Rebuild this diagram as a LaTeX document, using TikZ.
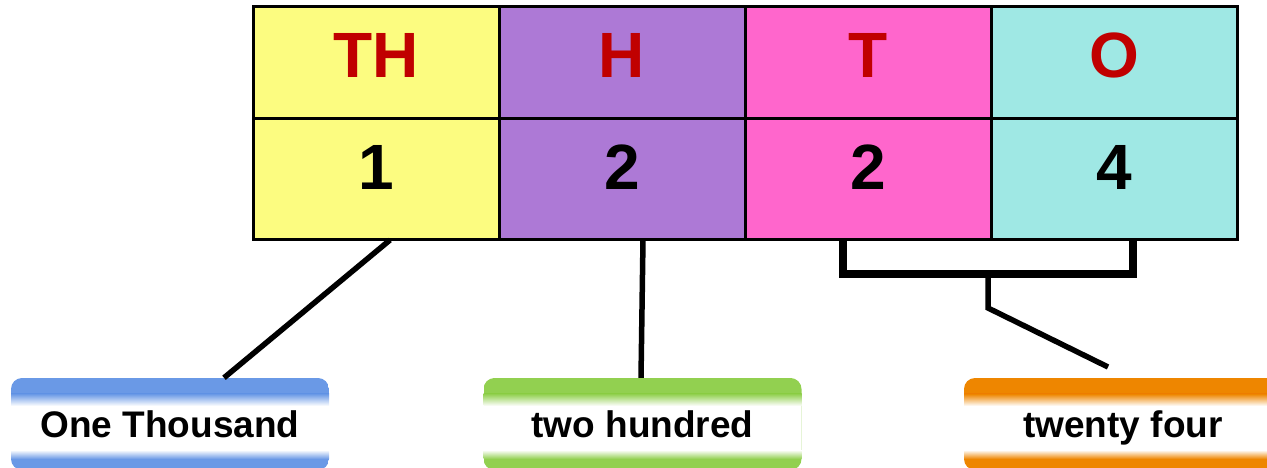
\documentclass[tikz,border=0pt]{standalone}
\usepackage{fontspec}
\setmainfont{Liberation Sans}
\usetikzlibrary{calc}
\definecolor{cyel}{HTML}{FCFC80}
\definecolor{cpur}{HTML}{AD79D6}
\definecolor{cpink}{HTML}{FF66CC}
\definecolor{ccyan}{HTML}{9FE8E4}
\definecolor{cred}{HTML}{C00000}
\definecolor{cblue}{HTML}{6A99E6}
\definecolor{cgreen}{HTML}{92D050}
\definecolor{corange}{HTML}{EE8600}
\tikzset{
  cell/.style={draw=black, line width=3pt, fill=#1, minimum width=246pt, inner sep=0pt, outer sep=0pt},
  headtxt/.style={anchor=base, font=\fontsize{64}{70}\selectfont\bfseries, text=cred, inner sep=0pt},
  digtxt/.style={anchor=base, font=\fontsize{64}{70}\selectfont\bfseries, text=black, inner sep=0pt},
  lbl/.style={rounded corners=11pt, minimum width=318pt, minimum height=92pt, inner sep=0pt,
    text height=27pt, text depth=0pt,
    font=\fontsize{37}{40}\selectfont\bfseries, text=black,
    path picture={
      \coordinate (pnw) at (path picture bounding box.north west);
      \coordinate (pse) at (path picture bounding box.south east);
      \fill[#1, sharp corners] (pnw) rectangle (pse);
      \fill[white, sharp corners] ($(pnw)+(0,-27)$) rectangle ($(pse)+(0,21)$);
      \shade[sharp corners, top color=#1, bottom color=white] ($(pnw)+(0,-16)$) rectangle ($(pse|-pnw)+(0,-28)$);
      \shade[sharp corners, top color=white, bottom color=#1] ($(pnw|-pse)+(0,20)$) rectangle ($(pse)+(0,11)$);
    }},
  conn/.style={line width=5.5pt, black},
  brack/.style={line width=8pt, black, line join=miter},
}
\begin{document}
\begin{tikzpicture}[x=1pt,y=1pt]
\useasboundingbox (0,0) rectangle (1267,468);
\clip (0,0) rectangle (1267,468);
% table cells
\node[cell=cyel, minimum height=112pt] (thc) at (376,405) {};
\node[cell=cpur, minimum height=112pt] (hc) at (622,405) {};
\node[cell=cpink, minimum height=112pt] (tc) at (868,405) {};
\node[cell=ccyan, minimum height=112pt] (oc) at (1114,405) {};
\node[cell=cyel, minimum height=121pt] (d1) at (376,288.5) {};
\node[cell=cpur, minimum height=121pt] (d2) at (622,288.5) {};
\node[cell=cpink, minimum height=121pt] (d3) at (868,288.5) {};
\node[cell=ccyan, minimum height=121pt] (d4) at (1114,288.5) {};
% texts
\node[headtxt] (tth) at (376,390) {TH};
\node[headtxt] (th) at (622,390) {H};
\node[headtxt] (tt) at (868,390) {T};
\node[headtxt] (to) at (1114,390) {O};
\node[digtxt] (t1) at (376,278) {1};
\node[digtxt] (t2) at (622,278) {2};
\node[digtxt] (t3) at (868,278) {2};
\node[digtxt] (t4) at (1114,278) {4};
% labels
\node[lbl=cblue] (lb1) at (170,44) {One Thousand};
\node[lbl=cgreen] (lb2) at (642.5,44) {two hundred};
\node[lbl=corange] (lb3) at (1123,44) {twenty four};
% connectors
\coordinate (a1) at ($(d1.south)+(14,0)$);
\coordinate (a2) at ($(d2.south)+(21,0)$);
\draw[conn] (a1) -- ($(lb1.north)+(54,0)$);
\draw[conn] (a2) -- ($(lb2.north)+(-1.5,0)$);
\coordinate (bl) at ($(d3.south)+(-25,0)$);
\coordinate (br) at ($(d4.south)+(19,0)$);
\coordinate (bm) at (988,194);
\coordinate (bk) at (988,160);
\coordinate (be) at (1108,101);
\draw[brack] (bl) -- (bl|-bm) -- (br|-bm) -- (br);
\draw[conn, line join=miter] (bm) -- (bk) -- (be);
\end{tikzpicture}
\end{document}
